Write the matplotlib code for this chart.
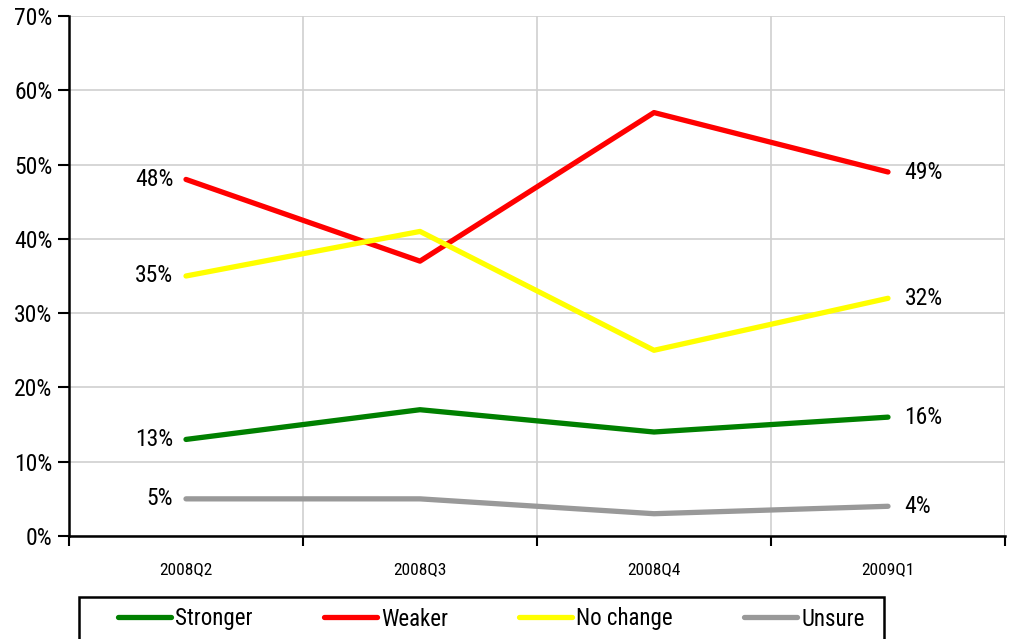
import matplotlib
matplotlib.use("Agg")
import matplotlib.pyplot as plt
from matplotlib.patches import Rectangle
from matplotlib.ticker import FuncFormatter, FixedLocator
from matplotlib import font_manager

names = {f.name for f in font_manager.fontManager.ttflist}
narrow = [n for n in ['Liberation Sans Narrow', 'Roboto Condensed', 'Open Sans Condensed'] if n in names]
plt.rcParams['font.family'] = narrow + ['DejaVu Sans']
plt.rcParams['font.stretch'] = 'condensed'

quarters = ["2008Q2", "2008Q3", "2008Q4", "2009Q1"]
stronger = [13, 17, 14, 16]
weaker = [48, 37, 57, 49]
no_change = [35, 41, 25, 32]
unsure = [5, 5, 3, 4]

series = [
    ("Stronger", stronger, "#008000"),
    ("Weaker", weaker, "#ff0000"),
    ("No change", no_change, "#ffff00"),
    ("Unsure", unsure, "#999999"),
]

W, H = 1011, 639
fig = plt.figure(figsize=(W / 100, H / 100), dpi=100)
ax = fig.add_axes([69/W, 1 - 536/H, (1005 - 69)/W, (536 - 16)/H])

x = list(range(len(quarters)))
for name, vals, col in series:
    ax.plot(x, vals, color=col, lw=3.8, solid_capstyle='round', label=name, zorder=3)
    ax.text(x[0] - 0.055, vals[0], f"{vals[0]}%", ha='right', va='center', fontsize=17)
    ax.text(x[-1] + 0.07, vals[-1], f"{vals[-1]}%", ha='left', va='center', fontsize=17)

ax.set_xlim(-0.5, 3.5)
ax.set_ylim(0, 70)
ax.set_yticks(range(0, 71, 10))
ax.yaxis.set_major_formatter(FuncFormatter(lambda v, p: f"{int(v)}%"))
ax.yaxis.grid(True, color='#d0d0d0', lw=1.2)

# category boundaries carry the ticks and vertical grid
ax.xaxis.set_major_locator(FixedLocator([-0.5, 0.5, 1.5, 2.5, 3.5]))
ax.xaxis.set_major_formatter(FuncFormatter(lambda v, p: ""))
ax.xaxis.set_minor_locator(FixedLocator(x))
ax.set_xticklabels(quarters, minor=True)
ax.xaxis.grid(True, which='major', color='#d0d0d0', lw=1.2)
ax.tick_params(axis='x', which='major', length=7, width=1.5, direction='out')
ax.tick_params(axis='x', which='minor', length=0, labelsize=12.5, pad=19)
ax.tick_params(axis='y', length=8, width=1.5, labelsize=17, pad=4)
ax.set_axisbelow(True)

for s in ['top', 'right']:
    ax.spines[s].set_visible(False)
for s in ['left', 'bottom']:
    ax.spines[s].set_linewidth(1.8)

# legend entries without frame, box drawn separately (runs off the bottom edge)
leg = fig.legend(loc='center left', bbox_to_anchor=(118/W, 1 - 619/H), ncol=4,
                 fontsize=16.5, frameon=False, handlelength=2.3,
                 handletextpad=0.2, columnspacing=3.1, borderpad=0,
                 borderaxespad=0)
fig.add_artist(Rectangle((79/W, -0.02), (884 - 79)/W, (H - 597)/H + 0.02,
                         transform=fig.transFigure, fill=False, ec='black',
                         lw=1.8, clip_on=False))

fig.savefig("out.png", dpi=100)
